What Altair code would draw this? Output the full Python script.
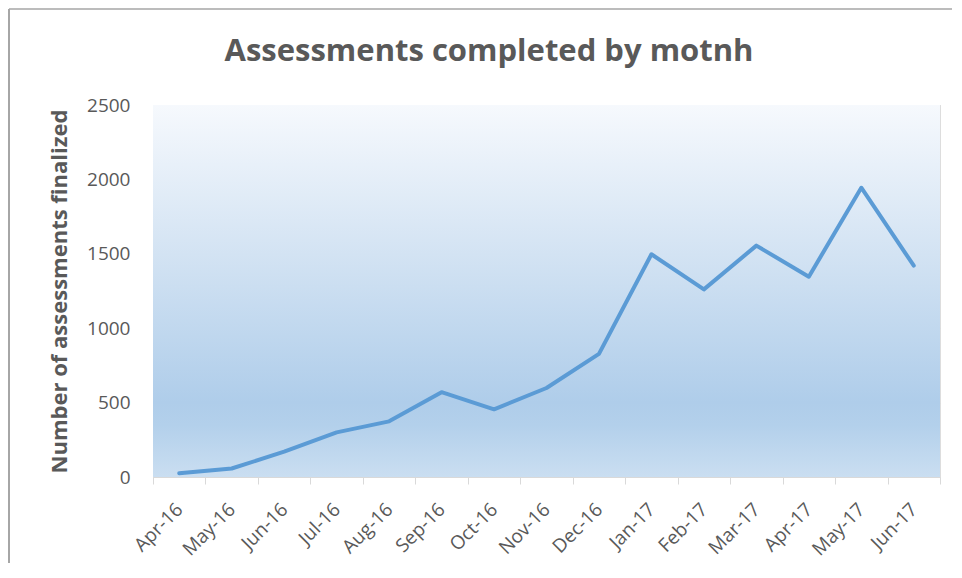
import altair as alt
import pandas as pd

months = ["Apr-16", "May-16", "Jun-16", "Jul-16", "Aug-16", "Sep-16", "Oct-16",
          "Nov-16", "Dec-16", "Jan-17", "Feb-17", "Mar-17", "Apr-17", "May-17", "Jun-17"]
values = [25, 57, 170, 300, 374, 570, 455, 598, 827, 1497, 1261, 1555, 1346, 1944, 1420]
y_ticks = [0, 500, 1000, 1500, 2000, 2500]
title_text = ["Assessments completed by motnh"]

df = pd.DataFrame({"month": months, "value": values})

W, H = 787, 372
PAD_L, PAD_T, PAD_R, PAD_B = 145, 97, 12, 86

grad = alt.LinearGradient(
    gradient="linear",
    stops=[
        alt.GradientStop(color="#F6F9FD", offset=0),
        alt.GradientStop(color="#D3E3F3", offset=0.4),
        alt.GradientStop(color="#AFCDEA", offset=0.8),
        alt.GradientStop(color="#B3D0EB", offset=0.86),
        alt.GradientStop(color="#CADEF1", offset=1),
    ],
    x1=0, x2=0, y1=0, y2=1,
)

one = pd.DataFrame({"k": [0]})

bg = alt.Chart(one).mark_rect(fill=grad).encode(
    x=alt.value(0), x2=alt.value(W), y=alt.value(0), y2=alt.value(H)
)

frame_left = alt.Chart(one).mark_rule(color="#A6A6A6", strokeWidth=2).encode(
    x=alt.value(-(PAD_L - 1)), y=alt.value(-(PAD_T - 1)), y2=alt.value(H + PAD_B)
)
frame_top = alt.Chart(one).mark_rule(color="#A6A6A6", strokeWidth=1.5).encode(
    y=alt.value(-(PAD_T - 1)), x=alt.value(-(PAD_L - 1)), x2=alt.value(W + PAD_R)
)

title = alt.Chart(pd.DataFrame({"t": title_text})).mark_text(
    font="Open Sans", fontSize=31, fontWeight="bold", color="#595959",
    align="center", baseline="alphabetic",
).encode(text="t:N", x=alt.value(336), y=alt.value(-44))

line = alt.Chart(df).mark_line(
    color="#5B9BD5", strokeWidth=4, strokeCap="round", strokeJoin="round"
).encode(
    x=alt.X(
        "month:N",
        sort=months,
        bandPosition=0.5,
        scale=alt.Scale(type="band", paddingInner=0, paddingOuter=0),
        axis=alt.Axis(
            title=None,
            labelAngle=-45,
            labelAlign="right",
            labelBaseline="middle",
            labelFont="Open Sans",
            labelFontSize=19,
            labelColor="#595959",
            labelPadding=22,
            tickBand="extent",
            ticks=True,
            tickSize=7,
            tickColor="#D9D9D9",
            domainColor="#D9D9D9",
            domainWidth=1,
            grid=False,
        ),
    ),
    y=alt.Y(
        "value:Q",
        scale=alt.Scale(domain=[0, 2500]),
        axis=alt.Axis(
            title="Number of assessments finalized",
            titleFont="Open Sans",
            titleFontSize=22,
            titleFontWeight="bold",
            titleColor="#595959",
            titlePadding=15,
            values=y_ticks,
            format="d",
            labelFont="Open Sans",
            labelFontSize=19,
            labelColor="#595959",
            labelPadding=23,
            ticks=False,
            domain=False,
            grid=True,
            gridColor="#D9D9D9",
            gridWidth=1,
        ),
    ),
)

chart = alt.layer(bg, line, frame_left, frame_top, title).properties(
    width=W,
    height=H,
    padding={"left": PAD_L, "top": PAD_T, "right": PAD_R, "bottom": PAD_B},
    autosize=alt.AutoSizeParams(type="none"),
).configure_view(stroke=None).configure(background="white")

chart.save("out.html", embed_options={"renderer": "svg", "actions": False})
